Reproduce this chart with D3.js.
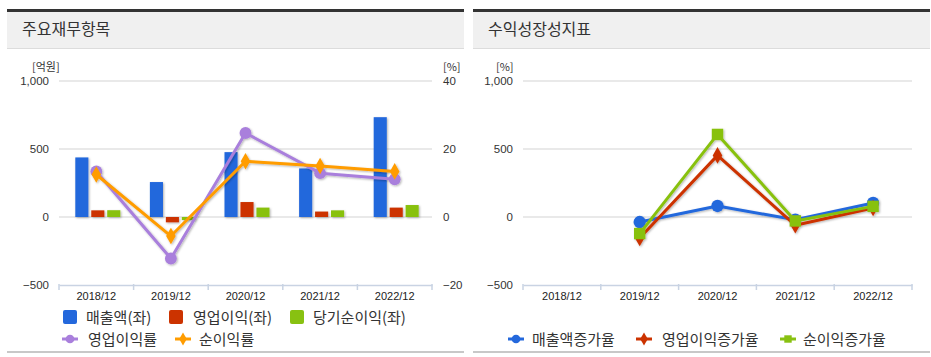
<!DOCTYPE html>
<html><head><meta charset="utf-8">
<script src="https://cdn.jsdelivr.net/npm/d3@7/dist/d3.min.js"></script>
<style>
html,body{margin:0;padding:0;background:#fff;}
svg{display:block;font-family:"Noto Sans CJK KR","Noto Sans",sans-serif;}
</style></head>
<body><svg id="c" width="931" height="357"></svg>
<script>
// ---- data ----
const years = ["2018/12","2019/12","2020/12","2021/12","2022/12"];
const revenue = [438, 257, 477, 357, 734];          // 매출액(좌) 억원
const opIncome = [49, -39, 110, 40, 69];            // 영업이익(좌)
const netIncome = [50, -22, 69, 49, 88];            // 당기순이익(좌)
const opMargin = [13.4, -12.2, 24.7, 12.9, 11.1];   // 영업이익률 %
const netMargin = [12.5, -5.6, 16.4, 15.0, 13.4];   // 순이익률 %
const revGrowth = [null, -37, 81, -20, 103];        // 매출액증가율
const opGrowth = [null, -154, 453, -61, 66];        // 영업이익증가율
const netGrowth = [null, -122, 607, -29, 78];       // 순이익증가율
const leftTicks = [-500, 0, 500, 1000];
const rightTicks = [-20, 0, 20, 40];
const titles = ["주요재무항목", "수익성장성지표"];

const C = {blue:"#2468dc", red:"#cc3300", green:"#88c111", purple:"#a97fdc", orange:"#ff9c00"};
const svg = d3.select("#c");
const defs = svg.append("defs");
const f = defs.append("filter").attr("id","sh").attr("x","-30%").attr("y","-30%").attr("width","160%").attr("height","160%");
f.append("feDropShadow").attr("dx",1).attr("dy",1).attr("stdDeviation",1.2).attr("flood-color","#000").attr("flood-opacity",0.3);

// panels
const panels = [{x0:7,x1:464},{x0:473,x1:930}];
panels.forEach((p,i)=>{
  svg.append("rect").attr("x",p.x0).attr("y",12).attr("width",p.x1-p.x0).attr("height",36).attr("fill","#f0f0f0");
  svg.append("rect").attr("x",p.x0).attr("y",9).attr("width",p.x1-p.x0).attr("height",3).attr("fill","#333");
  svg.append("rect").attr("x",p.x0).attr("y",48).attr("width",p.x1-p.x0).attr("height",1).attr("fill","#dcdcdc");
  svg.append("rect").attr("x",p.x0).attr("y",351).attr("width",p.x1-p.x0).attr("height",2).attr("fill","#c8c8c8");
  svg.append("text").attr("x",p.x0+15).attr("y",35).attr("font-size",16).attr("fill","#333").text(titles[i]);
});

const yTop = 81, yBot = 285;
const yL = d3.scaleLinear().domain([-500,1000]).range([yBot,yTop]);
const yR = d3.scaleLinear().domain([-20,40]).range([yBot,yTop]);

function frame(x0,x1,yScale,ticks){
  const g = svg.append("g");
  ticks.forEach(t=>{
    if(t!==-500) g.append("line").attr("x1",x0).attr("x2",x1).attr("y1",yScale(t)).attr("y2",yScale(t)).attr("stroke","#e2e2e2").attr("stroke-width",1.5);
  });
  const ax = d3.axisLeft(yScale).tickValues(ticks).tickSize(0).tickPadding(10).tickFormat(d3.format(","));
  const ga = svg.append("g").attr("transform",`translate(${x0},0)`).call(ax);
  ga.select(".domain").remove();
  ga.selectAll("text").attr("font-size",11.5).attr("fill","#333").attr("font-family","'Liberation Sans',Arial,sans-serif");
  return g;
}
function xaxis(x,y){
  const ax = d3.axisBottom(x).tickSize(0).tickPadding(7);
  const g = svg.append("g").attr("transform",`translate(0,${y})`).call(ax);
  g.select(".domain").attr("stroke","#c9d3e3").attr("stroke-width",1.5);
  g.selectAll("text").attr("font-size",11).attr("fill","#222").attr("font-family","'Liberation Sans',Arial,sans-serif");
  const bounds = [...x.domain().map(d=>x(d)), x.range()[1]];
  bounds.forEach(b=>g.append("line").attr("x1",b).attr("x2",b).attr("y1",-1).attr("y2",5).attr("stroke","#c9d3e3").attr("stroke-width",1.5));
}

// ---- left chart ----
const xL = d3.scaleBand().domain(years).range([59,432]);
frame(59,432,yL,leftTicks);
svg.append("text").attr("x",32).attr("y",71).attr("font-size",11).attr("fill","#333").text("[억원]");
svg.append("text").attr("x",443).attr("y",71).attr("font-size",11).attr("fill","#333").text("[%]");
const ar = d3.axisRight(yR).tickValues(rightTicks).tickSize(0).tickPadding(11);
const gr = svg.append("g").attr("transform",`translate(432,0)`).call(ar);
gr.select(".domain").remove();
gr.selectAll("text").attr("font-size",11.5).attr("fill","#333").attr("font-family","'Liberation Sans',Arial,sans-serif");

const barSeries = [{v:revenue,c:C.blue},{v:opIncome,c:C.red},{v:netIncome,c:C.green}];
const xSub = d3.scaleBand().domain([0,1,2]).range([-21,24]).paddingInner(0.18);
const gb = svg.append("g").attr("filter","url(#sh)");
barSeries.forEach((s,si)=>{
  gb.selectAll(null).data(s.v).join("rect")
    .attr("x",(d,i)=>xL(years[i])+xL.bandwidth()/2+xSub(si))
    .attr("width",xSub.bandwidth())
    .attr("y",d=>Math.min(yL(d),yL(0)))
    .attr("height",d=>Math.abs(yL(d)-yL(0)))
    .attr("fill",s.c);
});
xaxis(xL,yBot);

const cx = (xs,i)=>xs(years[i])+xs.bandwidth()/2;
const gl = svg.append("g").attr("filter","url(#sh)");
function drawLine(g,xs,ys,vals,color,shape,size){
  const pts = vals.map((v,i)=>v==null?null:[cx(xs,i),ys(v)]).filter(p=>p);
  g.append("path").attr("d",d3.line()(pts)).attr("fill","none").attr("stroke",color).attr("stroke-width",3).attr("stroke-linejoin","round");
  g.selectAll(null).data(pts).join("path")
    .attr("transform",p=>`translate(${p[0]},${p[1]})`)
    .attr("d",d3.symbol().type(shape).size(size)).attr("fill",color);
}
drawLine(gl,xL,yR,opMargin,C.purple,d3.symbolCircle,110);
drawLine(gl,xL,yR,netMargin,C.orange,d3.symbolDiamond,80);

// left legend
const lg = svg.append("g").attr("font-size",15).attr("fill","#333");
[[63,86,"매출액(좌)",C.blue],[169,193,"영업이익(좌)",C.red],[290,313,"당기순이익(좌)",C.green]].forEach(([mx,tx,t,c])=>{
  lg.append("rect").attr("x",mx).attr("y",310).attr("width",14).attr("height",14).attr("rx",2).attr("fill",c);
  lg.append("text").attr("x",tx).attr("y",322.5).text(t);
});
function lineLegend(g,mx,tx,y,t,c,shape,size){
  g.append("line").attr("x1",mx).attr("x2",mx+16).attr("y1",y).attr("y2",y).attr("stroke",c).attr("stroke-width",3);
  g.append("path").attr("transform",`translate(${mx+8},${y})`).attr("d",d3.symbol().type(shape).size(size)).attr("fill",c);
  g.append("text").attr("x",tx).attr("y",y+5.5).text(t);
}
lineLegend(lg,62,88,339,"영업이익률",C.purple,d3.symbolCircle,60);
lineLegend(lg,175,199,339,"순이익률",C.orange,d3.symbolDiamond,50);

// ---- right chart ----
const xR = d3.scaleBand().domain(years).range([523,912]);
frame(523,912,yL,leftTicks);
svg.append("text").attr("x",496).attr("y",71).attr("font-size",11).attr("fill","#333").text("[%]");
xaxis(xR,yBot);
const gl2 = svg.append("g").attr("filter","url(#sh)");
drawLine(gl2,xR,yL,revGrowth,C.blue,d3.symbolCircle,120);
drawLine(gl2,xR,yL,opGrowth,C.red,d3.symbolDiamond,80);
drawLine(gl2,xR,yL,netGrowth,C.green,d3.symbolSquare,130);

const rg = svg.append("g").attr("font-size",15).attr("fill","#333");
lineLegend(rg,508,532,339,"매출액증가율",C.blue,d3.symbolCircle,60);
lineLegend(rg,636,662,339,"영업이익증가율",C.red,d3.symbolDiamond,50);
lineLegend(rg,780,803,339,"순이익증가율",C.green,d3.symbolSquare,55);
</script></body></html>
